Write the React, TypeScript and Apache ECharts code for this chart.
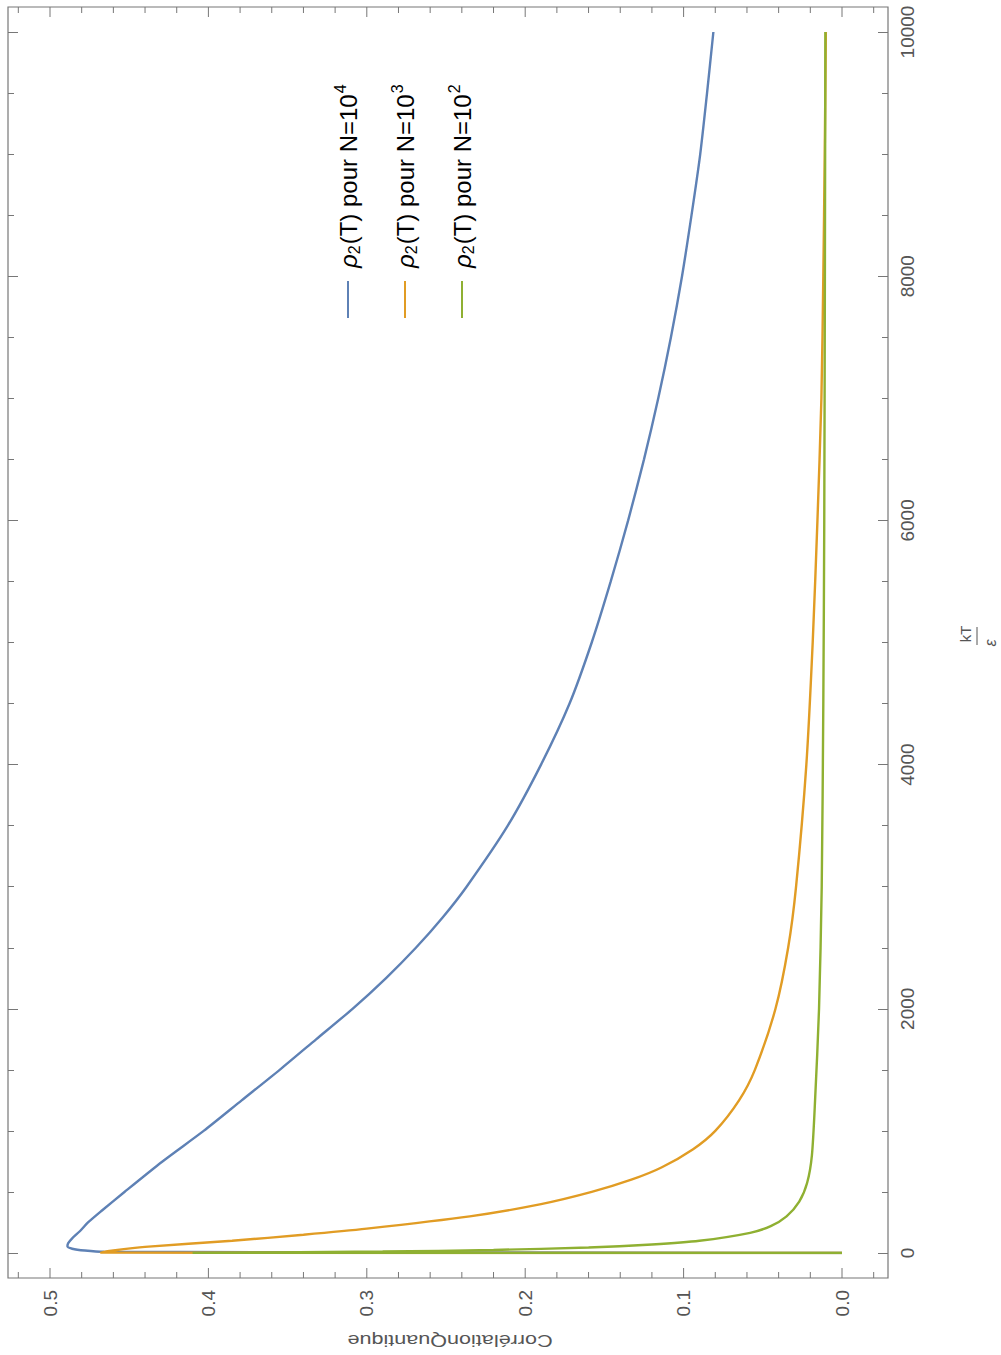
import React, { useEffect, useRef } from "react";
import * as echarts from "echarts";

// kT/ε values and quantum correlation values
const blueKT = [0, 10, 20, 35, 55, 80, 120, 180, 250, 350, 500, 750, 1000, 1250, 1500, 1750, 2000, 2250, 2500, 2750, 3000, 3500, 4000, 4500, 5000, 5500, 6000, 6500, 7000, 7500, 8000, 8500, 9000, 9500, 10000];
const blueRho = [0, 0.466, 0.478, 0.486, 0.489, 0.4885, 0.486, 0.481, 0.476, 0.467, 0.453, 0.429, 0.403, 0.379, 0.355, 0.332, 0.309, 0.288, 0.269, 0.252, 0.237, 0.211, 0.19, 0.172, 0.158, 0.146, 0.135, 0.125, 0.116, 0.108, 0.101, 0.095, 0.0895, 0.0852, 0.0812];

const orangeKT = [0, 3, 20, 50, 100, 150, 200, 300, 400, 500, 600, 700, 850, 1000, 1250, 1500, 2000, 2500, 3000, 4000, 5000, 6000, 7000, 8000, 9000, 10000];
const orangeRho = [0, 0.468, 0.46, 0.44, 0.385, 0.34, 0.3, 0.235, 0.19, 0.158, 0.133, 0.114, 0.094, 0.08, 0.065, 0.055, 0.042, 0.034, 0.029, 0.0225, 0.0185, 0.0155, 0.013, 0.0118, 0.0109, 0.0102];

const greenKT = [0, 1, 5, 12, 25, 45, 70, 100, 165, 220, 300, 420, 575, 800, 1250, 2000, 3000, 4500, 6000, 8000, 10000];
const greenRho = [0, 0.41, 0.36, 0.29, 0.22, 0.16, 0.12, 0.09, 0.058, 0.045, 0.035, 0.027, 0.022, 0.019, 0.017, 0.0145, 0.0128, 0.0118, 0.0112, 0.0108, 0.0105];

const seriesNames = ["N=10^4", "N=10^3", "N=10^2"];
const seriesExponents = ["4", "3", "2"];
const seriesColors = ["#5E81B5", "#E19C24", "#8FB032"];

const kTTicks = { min: 0, max: 10000, interval: 2000 };
const rhoTicks = { min: 0, max: 0.5, interval: 0.1 };
// frame tick scale runs right-to-left, so it is expressed as -ρ (labels show |value|)
const rhoFrameTicks = { min: -0.5, max: 0, interval: 0.1 };
// ρ positions of the ticks on the top and bottom frame edges (minor every 0.02, major every 0.1)
const rhoFrameTickSteps = [-1, 0, 1, 2, 3, 4, 5, 6, 7, 8, 9, 10, 11, 12, 13, 14, 15, 16, 17, 18, 19, 20, 21, 22, 23, 24, 25, 26];

const FONT = "'Liberation Sans', Arial, sans-serif";
const FRAME_COLOR = "#777";
const LABEL_COLOR = "#555";

export default function App() {
  const ref = useRef<HTMLDivElement>(null);

  useEffect(() => {
    if (!ref.current) return;
    const chart = echarts.init(ref.current, undefined, { renderer: "svg" });

    const kTs = [blueKT, orangeKT, greenKT];
    const rhos = [blueRho, orangeRho, greenRho];

    const majorTick = () => ({ show: true, inside: true, length: 10, lineStyle: { color: FRAME_COLOR, width: 1 } });
    const minorTickY = () => ({ show: true, splitNumber: 4, length: 6, lineStyle: { color: FRAME_COLOR } });

    const legendGroups = seriesNames.map((name, i) => ({
      type: "group",
      x: 348 + 57 * i,
      y: 318,
      rotation: Math.PI / 2,
      children: [
        {
          type: "line",
          shape: { x1: 0, y1: 0, x2: 37, y2: 0 },
          style: { stroke: seriesColors[i], lineWidth: 2 },
        },
        {
          type: "text",
          x: 50,
          y: 0,
          style: {
            text: `{r|ρ}{s|2}{n|(T) pour N=10}{p|${seriesExponents[i]}}`,
            align: "left",
            verticalAlign: "middle",
            fill: "#000",
            rich: {
              r: { fontSize: 24, fontStyle: "italic", fontFamily: FONT, fill: "#000" },
              s: { fontSize: 16, fontFamily: FONT, fill: "#000", padding: [12, 1, 0, 0] },
              n: { fontSize: 24, fontFamily: FONT, fill: "#000" },
              p: { fontSize: 16, fontFamily: FONT, fill: "#000", padding: [0, 0, 15, 1] },
            },
          },
        },
      ],
    }));

    const yAxisBase = () => ({
      gridIndex: 0,
      type: "value",
      min: kTTicks.min,
      max: kTTicks.max,
      interval: kTTicks.interval,
      axisLine: { show: false, onZero: false },
      axisTick: majorTick(),
      minorTick: minorTickY(),
      splitLine: { show: false },
      minorSplitLine: { show: false },
    });

    const baseGraphic: any[] = [
      {
        type: "rect",
        shape: { x: 8, y: 7, width: 880, height: 1271 },
        style: { fill: "none", stroke: FRAME_COLOR, lineWidth: 1.2 },
        z: 10,
      },
      {
        type: "text",
        x: 450,
        y: 1340,
        rotation: Math.PI,
        scaleX: 1.35,
        style: {
          text: "CorrélationQuantique",
          font: `16px ${FONT}`,
          fill: LABEL_COLOR,
          align: "center",
          verticalAlign: "middle",
        },
      },
      {
        type: "text",
        x: 965,
        y: 634,
        rotation: Math.PI / 2,
        style: {
          text: "kT",
          font: `15px ${FONT}`,
          fill: LABEL_COLOR,
          align: "center",
          verticalAlign: "middle",
        },
      },
      {
        type: "line",
        shape: { x1: 977, y1: 627, x2: 977, y2: 645 },
        style: { stroke: LABEL_COLOR, lineWidth: 1 },
      },
      {
        type: "text",
        x: 990,
        y: 643,
        rotation: Math.PI / 2,
        style: {
          text: "ε",
          font: `italic 16px ${FONT}`,
          fill: LABEL_COLOR,
          align: "center",
          verticalAlign: "middle",
        },
      },
      ...legendGroups,
    ];

    const option: any = {
      animation: false,
      textStyle: { fontFamily: FONT },
      grid: [
        // data area: ρ 0.5 → 0 horizontally, kT 0 → 10000 vertically
        { left: 50, top: 32, width: 792, height: 1221 },
        // bottom frame edge, carries the ρ labels
        { left: 50, top: 1268, width: 792, height: 10 },
      ],
      xAxis: [
        {
          gridIndex: 0,
          type: "value",
          min: rhoTicks.min,
          max: rhoTicks.max,
          inverse: true,
          show: false,
          axisLine: { onZero: false },
        },
        {
          gridIndex: 1,
          type: "value",
          min: rhoFrameTicks.min,
          max: rhoFrameTicks.max,
          interval: rhoFrameTicks.interval,
          position: "bottom",
          axisLine: { show: false, onZero: false },
          axisTick: { show: false },
          splitLine: { show: false },
          axisLabel: {
            show: true,
            rotate: 90,
            fontSize: 19,
            margin: 12,
            color: LABEL_COLOR,
            formatter: (v: number) => Math.abs(v).toFixed(1),
          },
        },
      ],
      yAxis: [
        {
          ...yAxisBase(),
          position: "right",
          offset: 46,
          axisLabel: {
            rotate: 90,
            fontSize: 19,
            margin: 10,
            color: LABEL_COLOR,
            formatter: (v: number) => String(v),
          },
        },
        { ...yAxisBase(), position: "left", offset: 42, axisLabel: { show: false } },
        { gridIndex: 1, type: "value", min: 0, max: 1, show: false, axisLine: { onZero: false } },
      ],
      series: seriesNames.map((name, i) => ({
        name,
        type: "line",
        xAxisIndex: 0,
        yAxisIndex: 0,
        showSymbol: false,
        symbol: "none",
        smooth: 0.25,
        lineStyle: { color: seriesColors[i], width: 2.4 },
        itemStyle: { color: seriesColors[i] },
        data: kTs[i].map((k, j) => [rhos[i][j], k]),
        z: 3 + i,
      })),
      graphic: baseGraphic,
    };

    chart.setOption(option);

    // frame ticks on the top and bottom edges, placed through the ρ axis scale
    try {
      const tickLines: any[] = [];
      rhoFrameTickSteps.forEach((k) => {
        const v = Math.round(k * 2) / 100;
        const px = chart.convertToPixel({ xAxisIndex: 0 } as any, v) as unknown as number;
        if (typeof px !== "number" || !isFinite(px)) return;
        const major = k % 5 === 0 && k >= 0 && k <= 25;
        const len = major ? 10 : 6;
        tickLines.push({
          type: "line",
          shape: { x1: px, y1: 1278, x2: px, y2: 1278 - len },
          style: { stroke: FRAME_COLOR, lineWidth: 1 },
          z: 10,
        });
        tickLines.push({
          type: "line",
          shape: { x1: px, y1: 7, x2: px, y2: 7 + len },
          style: { stroke: FRAME_COLOR, lineWidth: 1 },
          z: 10,
        });
      });
      if (tickLines.length) {
        chart.setOption({ graphic: [...baseGraphic, ...tickLines] });
      }
    } catch (e) {
      // leave the chart without the extra frame ticks
    }

    return () => chart.dispose();
  }, []);

  return (
    <div
      ref={ref}
      style={{ position: "absolute", left: 0, top: 0, width: 1001, height: 1355, background: "#fff" }}
    />
  );
}
